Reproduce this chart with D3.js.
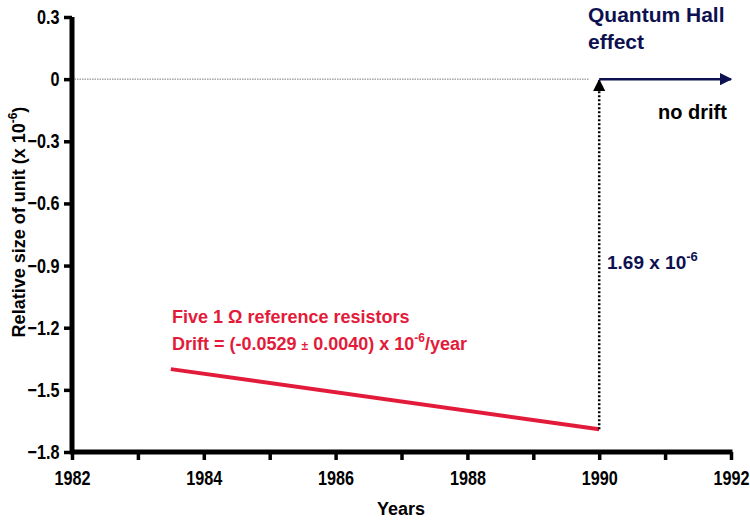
<!DOCTYPE html>
<html>
<head>
<meta charset="utf-8">
<script src="https://cdn.jsdelivr.net/npm/d3@7"></script>
<style>
	body { margin: 0; background: #fff; }
	svg text { font-family: "Liberation Sans", Arial, sans-serif; font-weight: bold; }
</style>
</head>
<body>
<svg id="chart" width="750" height="521"></svg>
<script>
"use strict";

// data
const yearTicks = [1982, 1983, 1984, 1985, 1986, 1987, 1988, 1989, 1990, 1991, 1992];
const valueTicks = [0.3, 0, -0.3, -0.6, -0.9, -1.2, -1.5, -1.8];
const resistorYears = [1983.5, 1990];
const resistorValues = [-1.40, -1.69];
const qheYears = [1990, 1992];
const qheValues = [0, 0];
const stepYear = 1990;

const svg = d3.select("#chart");
const margin = {left: 72, right: 19, top: 17, bottom: 69};
const width = 750 - margin.left - margin.right;
const height = 521 - margin.top - margin.bottom;

const x = d3.scaleLinear().domain([1982, 1992]).range([0, width]);
const y = d3.scaleLinear().domain([0.3, -1.8]).range([0, height]);

const defs = svg.append("defs");
function marker(id, color) {
	defs.append("marker")
		.attr("id", id)
		.attr("viewBox", "0 0 10 10")
		.attr("refX", 9).attr("refY", 5)
		.attr("markerWidth", 5).attr("markerHeight", 5)
		.attr("markerUnits", "strokeWidth")
		.attr("orient", "auto")
		.append("path")
		.attr("d", "M0,0 L10,5 L0,10 Z")
		.attr("fill", color);
}
marker("arrNavy", "#0d1150");
marker("arrBlack", "#000");

const g = svg.append("g").attr("transform", `translate(${margin.left},${margin.top})`);

// thin dotted zero line
g.append("line")
	.attr("x1", x(1982)).attr("x2", x(1989.85))
	.attr("y1", y(0)).attr("y2", y(0))
	.attr("stroke", "#555").attr("stroke-width", 0.8)
	.attr("stroke-dasharray", "1.5,1");

// axes
const xAxis = d3.axisBottom(x).tickValues(yearTicks)
	.tickFormat(d => d % 2 == 0 ? d : "").tickSize(8).tickPadding(9).tickSizeOuter(0);
const yAxis = d3.axisLeft(y).tickValues(valueTicks)
	.tickFormat(d => d === 0 ? "0" : d3.format(".1f")(d)).tickSize(8).tickPadding(6).tickSizeOuter(0);

const gx = g.append("g").attr("class", "xaxis").attr("transform", `translate(0,${height})`).call(xAxis);
const gy = g.append("g").attr("class", "yaxis").call(yAxis);
for (const a of [gx, gy]) {
	a.select(".domain").remove();
	a.selectAll(".tick line").attr("stroke", "#000").attr("stroke-width", 3.5);
	a.selectAll(".tick text").attr("font-size", 18).attr("fill", "#000")
		.attr("transform", "scale(0.9,1.12)");
}

// heavy axis lines
g.append("line").attr("x1", 0).attr("x2", 0).attr("y1", 0).attr("y2", height + 2)
	.attr("stroke", "#000").attr("stroke-width", 5);
g.append("line").attr("x1", -2).attr("x2", width + 1.5).attr("y1", height).attr("y2", height)
	.attr("stroke", "#000").attr("stroke-width", 5);

// red drift line
const line = d3.line().x(d => x(d[0])).y(d => y(d[1]));
g.append("path")
	.datum(d3.zip(resistorYears, resistorValues))
	.attr("d", line)
	.attr("fill", "none").attr("stroke", "#e31b3a").attr("stroke-width", 4);

// dotted step up to QHE
g.append("line")
	.attr("x1", x(stepYear)).attr("x2", x(stepYear))
	.attr("y1", y(resistorValues[1])).attr("y2", y(0) + 1)
	.attr("stroke", "#000").attr("stroke-width", 2.5)
	.attr("stroke-dasharray", "2,2")
	.attr("marker-end", "url(#arrBlack)");

// QHE arrow
g.append("path")
	.datum(d3.zip(qheYears, qheValues))
	.attr("d", line)
	.attr("fill", "none").attr("stroke", "#0d1150").attr("stroke-width", 2.5)
	.attr("marker-end", "url(#arrNavy)");

// texts
const navy = "#0d1150";
svg.append("text").attr("x", 588).attr("y", 22).attr("font-size", 21).attr("fill", navy).text("Quantum Hall");
svg.append("text").attr("x", 588).attr("y", 49).attr("font-size", 21).attr("fill", navy).text("effect");
svg.append("text").attr("x", 658).attr("y", 119).attr("font-size", 20).attr("fill", "#000").text("no drift");

const t169 = svg.append("text").attr("x", 607).attr("y", 269).attr("font-size", 19).attr("fill", navy);
t169.append("tspan").text("1.69 x 10");
t169.append("tspan").attr("font-size", 13).attr("dy", -8).text("-6");

svg.append("text").attr("x", 172).attr("y", 323).attr("font-size", 18).attr("fill", "#e31b3a")
	.text("Five 1 \u03A9 reference resistors");
const drift = svg.append("text").attr("x", 172).attr("y", 350).attr("font-size", 18).attr("fill", "#e31b3a");
drift.append("tspan").text("Drift = (-0.0529 ");
drift.append("tspan").attr("font-size", 12).text("\u00B1");
drift.append("tspan").text(" 0.0040) x 10");
drift.append("tspan").attr("font-size", 12).attr("dy", -8).text("-6");
drift.append("tspan").attr("dy", 8).text("/year");

// axis titles
svg.append("text").attr("x", 401).attr("y", 515).attr("text-anchor", "middle")
	.attr("font-size", 18).text("Years");
const yl = svg.append("text")
	.attr("transform", "translate(25,222) rotate(-90)")
	.attr("text-anchor", "middle").attr("font-size", 18);
yl.append("tspan").text("Relative size of unit (x 10");
yl.append("tspan").attr("font-size", 12).attr("dy", -8).text("-6");
yl.append("tspan").attr("dy", 8).text(")");
</script>
</body>
</html>
